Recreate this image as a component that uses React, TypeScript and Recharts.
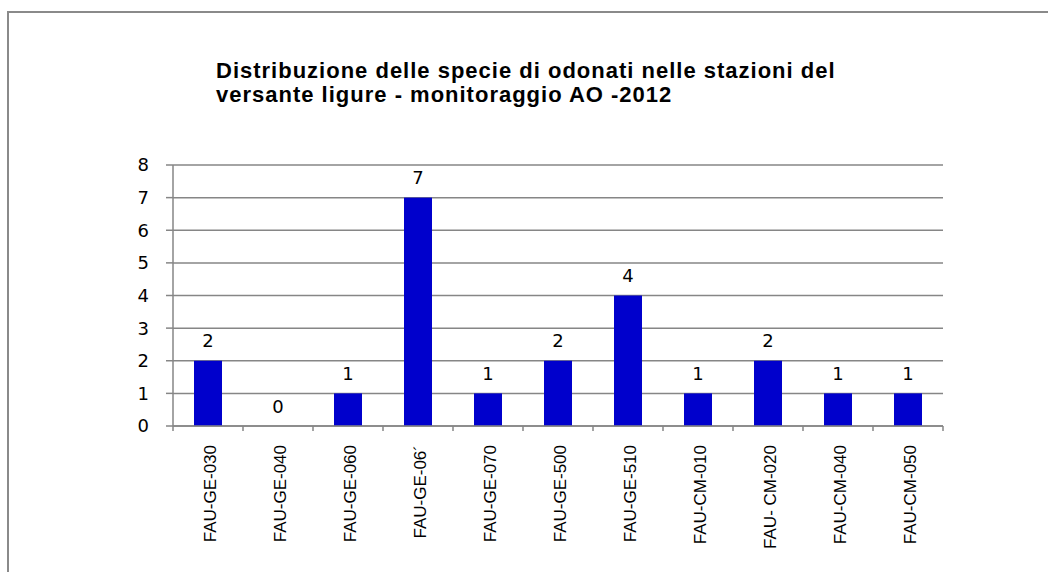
import React from "react";
import { BarChart, Bar, XAxis, YAxis, CartesianGrid } from "recharts";

const stations = [
  "FAU-GE-030",
  "FAU-GE-040",
  "FAU-GE-060",
  "FAU-GE-06\u00b4",
  "FAU-GE-070",
  "FAU-GE-500",
  "FAU-GE-510",
  "FAU-CM-010",
  "FAU- CM-020",
  "FAU-CM-040",
  "FAU-CM-050",
];
const speciesCount = [2, 0, 1, 7, 1, 2, 4, 1, 2, 1, 1];
const yTicks = [0, 1, 2, 3, 4, 5, 6, 7, 8];
const titleLines = [
  "Distribuzione delle specie di odonati nelle stazioni del",
  "versante ligure - monitoraggio AO -2012",
];

const data = stations.map((s, i) => ({ station: s, value: speciesCount[i] }));

const W = 1048;
const H = 572;
const M = { top: 165, right: 105, bottom: 0, left: 113 };
const halfBand = (W - M.left - 60 - M.right) / stations.length / 2;
const numFont = "DejaVu Sans, Verdana, sans-serif";

const XTick = (props: any) => {
  const { x, y, payload, index } = props;
  const last = index === stations.length - 1;
  return (
    <g>
      <line x1={x - halfBand} y1={y - 8} x2={x - halfBand} y2={y - 3} stroke="#868686" strokeWidth={1.5} />
      {last && (
        <line x1={x + halfBand} y1={y - 8} x2={x + halfBand} y2={y - 3} stroke="#868686" strokeWidth={1.5} />
      )}
      <text
        x={x + 2}
        y={y + 11}
        transform={`rotate(-90, ${x + 2}, ${y + 11})`}
        textAnchor="end"
        dominantBaseline="central"
        fontFamily="Liberation Sans, Arial, sans-serif"
        fontSize={17}
        fill="#000"
      >
        {payload.value}
      </text>
    </g>
  );
};

const BarWithLabel = (props: any) => {
  const { x, y, width, height, fill, value } = props;
  const v = Array.isArray(value) ? value[1] : value;
  return (
    <g>
      {height > 0 && <rect x={x} y={y} width={width} height={height} fill={fill} />}
      <text
        x={x + width / 2}
        y={y - 20}
        textAnchor="middle"
        dominantBaseline="central"
        fontFamily={numFont}
        fontSize={18}
        fill="#000"
      >
        {v}
      </text>
    </g>
  );
};

export default function App() {
  return (
    <div style={{ position: "absolute", left: 0, top: 0, width: W, height: H, background: "#fff", overflow: "hidden" }}>
      <div
        style={{
          position: "absolute",
          left: 7,
          top: 11,
          width: W,
          height: H,
          borderTop: "2px solid #8a8a8a",
          borderLeft: "2px solid #8a8a8a",
        }}
      />
      <div
        style={{
          position: "absolute",
          left: 216,
          top: 59,
          fontFamily: "Liberation Sans, Arial, sans-serif",
          fontWeight: "bold",
          fontSize: 22,
          lineHeight: "24px",
          letterSpacing: 1,
          color: "#000",
          whiteSpace: "nowrap",
        }}
      >
        {titleLines.map((t, i) => (
          <div key={i}>{t}</div>
        ))}
      </div>
      <div style={{ position: "absolute", left: 0, top: 0 }}>
        <BarChart width={W} height={H} data={data} margin={M} barCategoryGap={0}>
          <CartesianGrid vertical={false} stroke="#868686" strokeWidth={1.5} />
          <XAxis
            dataKey="station"
            height={146}
            interval={0}
            axisLine={{ stroke: "#868686", strokeWidth: 1.5 }}
            tickLine={false}
            tick={<XTick />}
          />
          <YAxis
            width={60}
            domain={[0, 8]}
            ticks={yTicks}
            interval={0}
            axisLine={{ stroke: "#868686", strokeWidth: 1.5 }}
            tickLine={{ stroke: "#868686", strokeWidth: 1.5 }}
            tickSize={7}
            tickMargin={17}
            tick={{ fill: "#000", fontSize: 18, fontFamily: numFont }}
          />
          <Bar
            dataKey="value"
            fill="#0000cc"
            barSize={28}
            minPointSize={0}
            isAnimationActive={false}
            shape={<BarWithLabel />}
          />
        </BarChart>
      </div>
    </div>
  );
}
